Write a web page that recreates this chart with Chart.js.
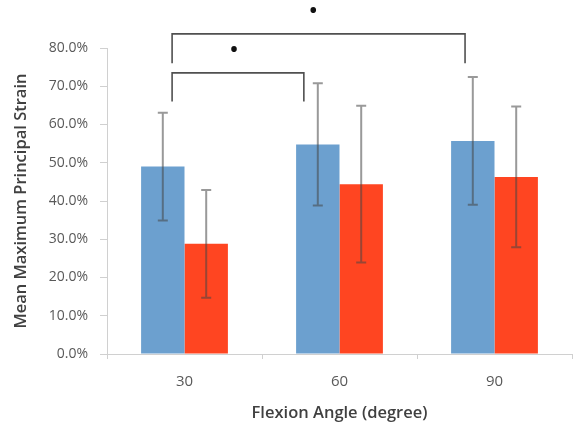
<!DOCTYPE html>
<html>
<head>
<meta charset="utf-8">
<script src="https://cdn.jsdelivr.net/npm/chart.js@4/dist/chart.umd.min.js"></script>
<style>
  html, body { margin: 0; padding: 0; background: #ffffff; }
  #wrap { width: 574px; height: 427px; position: relative; }
</style>
</head>
<body>
<div id="wrap"><canvas id="c" width="574" height="427"></canvas></div>
<script>
// ---- data ----
const categories = ['30', '60', '90'];
const seriesNames = ['Group A', 'Group B'];
const seriesAValues = [49.0, 54.8, 55.7];
const seriesAErrors = [14.1, 16.0, 16.7];
const seriesBValues = [28.8, 44.4, 46.3];
const seriesBErrors = [14.1, 20.5, 18.4];
const yTickMin = 0;
const yTickMax = 80;
const yTickStep = 10;
// significance brackets (category index positions, data levels in %)
const bracketStart = [-0.08, -0.08];
const bracketEnd = [0.77, 1.81];
const bracketTop = [73.5, 83.7];
const bracketLegBottom = [66.0, 76.0];
const bracketStarX = [0.32, 0.83];
const bracketStarY = [79.5, 89.5];
const bracketLabel = ['•', '•'];

const FONT = "'Open Sans', 'Liberation Sans', sans-serif";

const errorBarPlugin = {
  id: 'errorBars',
  afterDatasetsDraw(chart) {
    const ctx = chart.ctx;
    const y = chart.scales.y;
    const errs = [seriesAErrors, seriesBErrors];
    ctx.save();
    ctx.strokeStyle = 'rgba(70,70,70,0.55)';
    ctx.lineWidth = 2;
    chart.data.datasets.forEach((ds, di) => {
      const meta = chart.getDatasetMeta(di);
      meta.data.forEach((bar, i) => {
        const v = ds.data[i];
        const e = errs[di][i];
        const x = bar.x;
        const yTop = y.getPixelForValue(v + e);
        const yBot = y.getPixelForValue(v - e);
        ctx.beginPath();
        ctx.moveTo(x, yTop); ctx.lineTo(x, yBot);
        ctx.moveTo(x - 5, yTop); ctx.lineTo(x + 5, yTop);
        ctx.moveTo(x - 5, yBot); ctx.lineTo(x + 5, yBot);
        ctx.stroke();
      });
    });
    ctx.restore();
  }
};

const bracketPlugin = {
  id: 'brackets',
  afterDraw(chart) {
    const ctx = chart.ctx;
    const xs = chart.scales.x, ys = chart.scales.y;
    ctx.save();
    ctx.strokeStyle = '#505050';
    ctx.lineWidth = 1.6;
    for (let i = 0; i < bracketStart.length; i++) {
      const x1 = xs.getPixelForValue(bracketStart[i]);
      const x2 = xs.getPixelForValue(bracketEnd[i]);
      const yt = ys.getPixelForValue(bracketTop[i]);
      const yb = ys.getPixelForValue(bracketLegBottom[i]);
      ctx.beginPath();
      ctx.moveTo(x1, yb); ctx.lineTo(x1, yt); ctx.lineTo(x2, yt); ctx.lineTo(x2, yb);
      ctx.stroke();
      ctx.fillStyle = '#111111';
      ctx.font = 'bold 20px ' + FONT;
      ctx.textAlign = 'center';
      ctx.textBaseline = 'middle';
      ctx.fillText(bracketLabel[i], xs.getPixelForValue(bracketStarX[i]), ys.getPixelForValue(bracketStarY[i]));
    }
    ctx.restore();
  }
};

new Chart(document.getElementById('c'), {
  type: 'bar',
  data: {
    labels: categories,
    datasets: [
      { label: seriesNames[0], data: seriesAValues, backgroundColor: '#6ca0cf', borderWidth: 0,
        categoryPercentage: 0.56, barPercentage: 1.0 },
      { label: seriesNames[1], data: seriesBValues, backgroundColor: '#ff4521', borderWidth: 0,
        categoryPercentage: 0.56, barPercentage: 1.0 }
    ]
  },
  options: {
    responsive: false,
    animation: false,
    devicePixelRatio: 1,
    layout: { padding: { top: 48, right: 2, left: 0, bottom: 0 } },
    plugins: { legend: { display: false }, tooltip: { enabled: false } },
    scales: {
      x: {
        grid: { display: true, drawOnChartArea: false, drawTicks: true, tickLength: 5, color: '#d0d0d0', offset: true },
        border: { display: true, color: '#d0d0d0', width: 1 },
        ticks: { color: '#595959', font: { family: FONT, size: 15 }, padding: 14 },
        title: { display: true, text: 'Flexion Angle (degree)', color: '#404040',
                 font: { family: FONT, size: 16.5, weight: '600' }, padding: { top: 0, bottom: 4 } },
        afterFit(scale) { scale.height = 73; }
      },
      y: {
        min: yTickMin, max: yTickMax,
        grid: { display: true, drawOnChartArea: false, drawTicks: true, tickLength: 7, color: '#d0d0d0' },
        border: { display: true, color: '#d0d0d0', width: 1 },
        ticks: { stepSize: yTickStep, color: '#595959', font: { family: FONT, size: 14 }, padding: 12,
                 callback: v => v.toFixed(1) + '%' },
        title: { display: true, text: 'Mean Maximum Principal Strain', color: '#404040',
                 font: { family: FONT, size: 16.5, weight: '600' }, padding: { top: 11, bottom: 0 } },
        afterFit(scale) { scale.width = 107; }
      }
    }
  },
  plugins: [errorBarPlugin, bracketPlugin]
});
</script>
</body>
</html>
